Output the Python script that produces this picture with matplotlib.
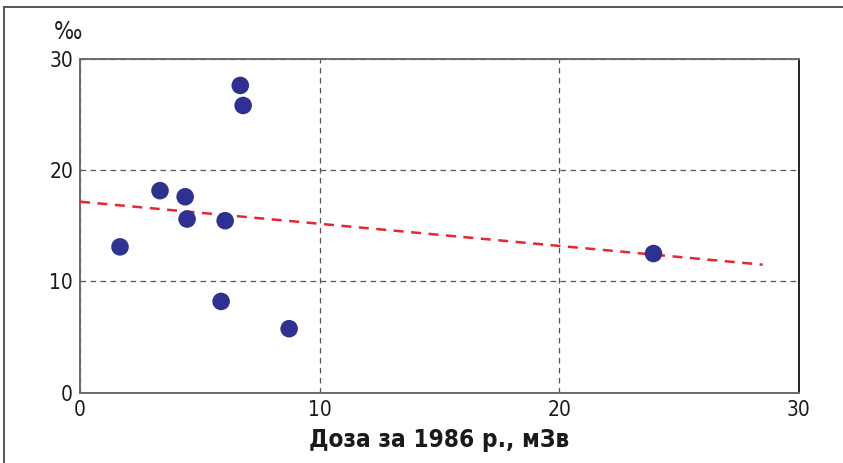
import matplotlib
matplotlib.use("Agg")
import matplotlib.pyplot as plt
from matplotlib.lines import Line2D
from matplotlib import font_manager

# Prefer a narrow face when one is installed
narrow = None
for f in font_manager.fontManager.ttflist:
    if f.name in ('Liberation Sans Narrow', 'DejaVu Sans Condensed') or \
       (f.name == 'DejaVu Sans' and f.stretch in ('condensed', 'semi-condensed')):
        narrow = f.name
        break

plt.rcParams['font.family'] = [narrow, 'DejaVu Sans'] if narrow else ['DejaVu Sans']
plt.rcParams['font.stretch'] = 'condensed'

# Dose in 1986 (mSv) and rate (per mille)
dose = [1.67, 3.34, 4.39, 4.47, 6.06, 6.69, 6.81, 5.89, 8.73, 23.94]
rate = [13.1, 18.15, 17.6, 15.6, 15.45, 27.6, 25.8, 8.2, 5.75, 12.5]

# Linear trend endpoints
trend_x = [0.0, 28.5]
trend_y = [17.16, 11.5]

x_ticks = [0, 10, 20, 30]
y_ticks = [0, 10, 20, 30]
xlabel = "Доза за 1986 р., мЗв"
ylabel = "‰"

fig = plt.figure(figsize=(8.43, 4.63), dpi=100)
ax = fig.add_axes([0.0949, 0.1518, 0.8525, 0.7214])

ax.set_xlim(0, 30)
ax.set_ylim(0, 30)
ax.set_xticks(x_ticks)
ax.set_yticks(y_ticks)
ax.tick_params(length=0, labelsize=15, pad=5, colors='#1a1a1a')

ax.grid(True, color='#555555', linestyle=(0, (4.5, 3.5)), linewidth=0.9)
ax.set_axisbelow(True)

for side in ['left', 'bottom', 'top']:
    ax.spines[side].set_color('#6a6a6a')
    ax.spines[side].set_linewidth(1.4)
ax.spines['right'].set_color('#222222')
ax.spines['right'].set_linewidth(1.4)

ax.plot(trend_x, trend_y, color='#e8262d', linestyle=(0, (4, 3)), linewidth=1.8, zorder=3)
ax.scatter(dose, rate, s=160, color='#2e3192', edgecolors='none', zorder=4)

ax.set_xlabel(xlabel, fontsize=17.5, fontweight='bold', labelpad=6, color='#1a1a1a')
fig.text(0.0805, 0.905, ylabel, fontsize=17, ha='center', va='bottom', color='#1a1a1a')

# Outer frame: top and left edges
fig.add_artist(Line2D([0.0053, 1.0], [0.985, 0.985], transform=fig.transFigure,
                      color='#555555', linewidth=1.4))
fig.add_artist(Line2D([0.0053, 0.0053], [0.0, 0.985], transform=fig.transFigure,
                      color='#555555', linewidth=1.4))

fig.savefig("out.png", dpi=100)
